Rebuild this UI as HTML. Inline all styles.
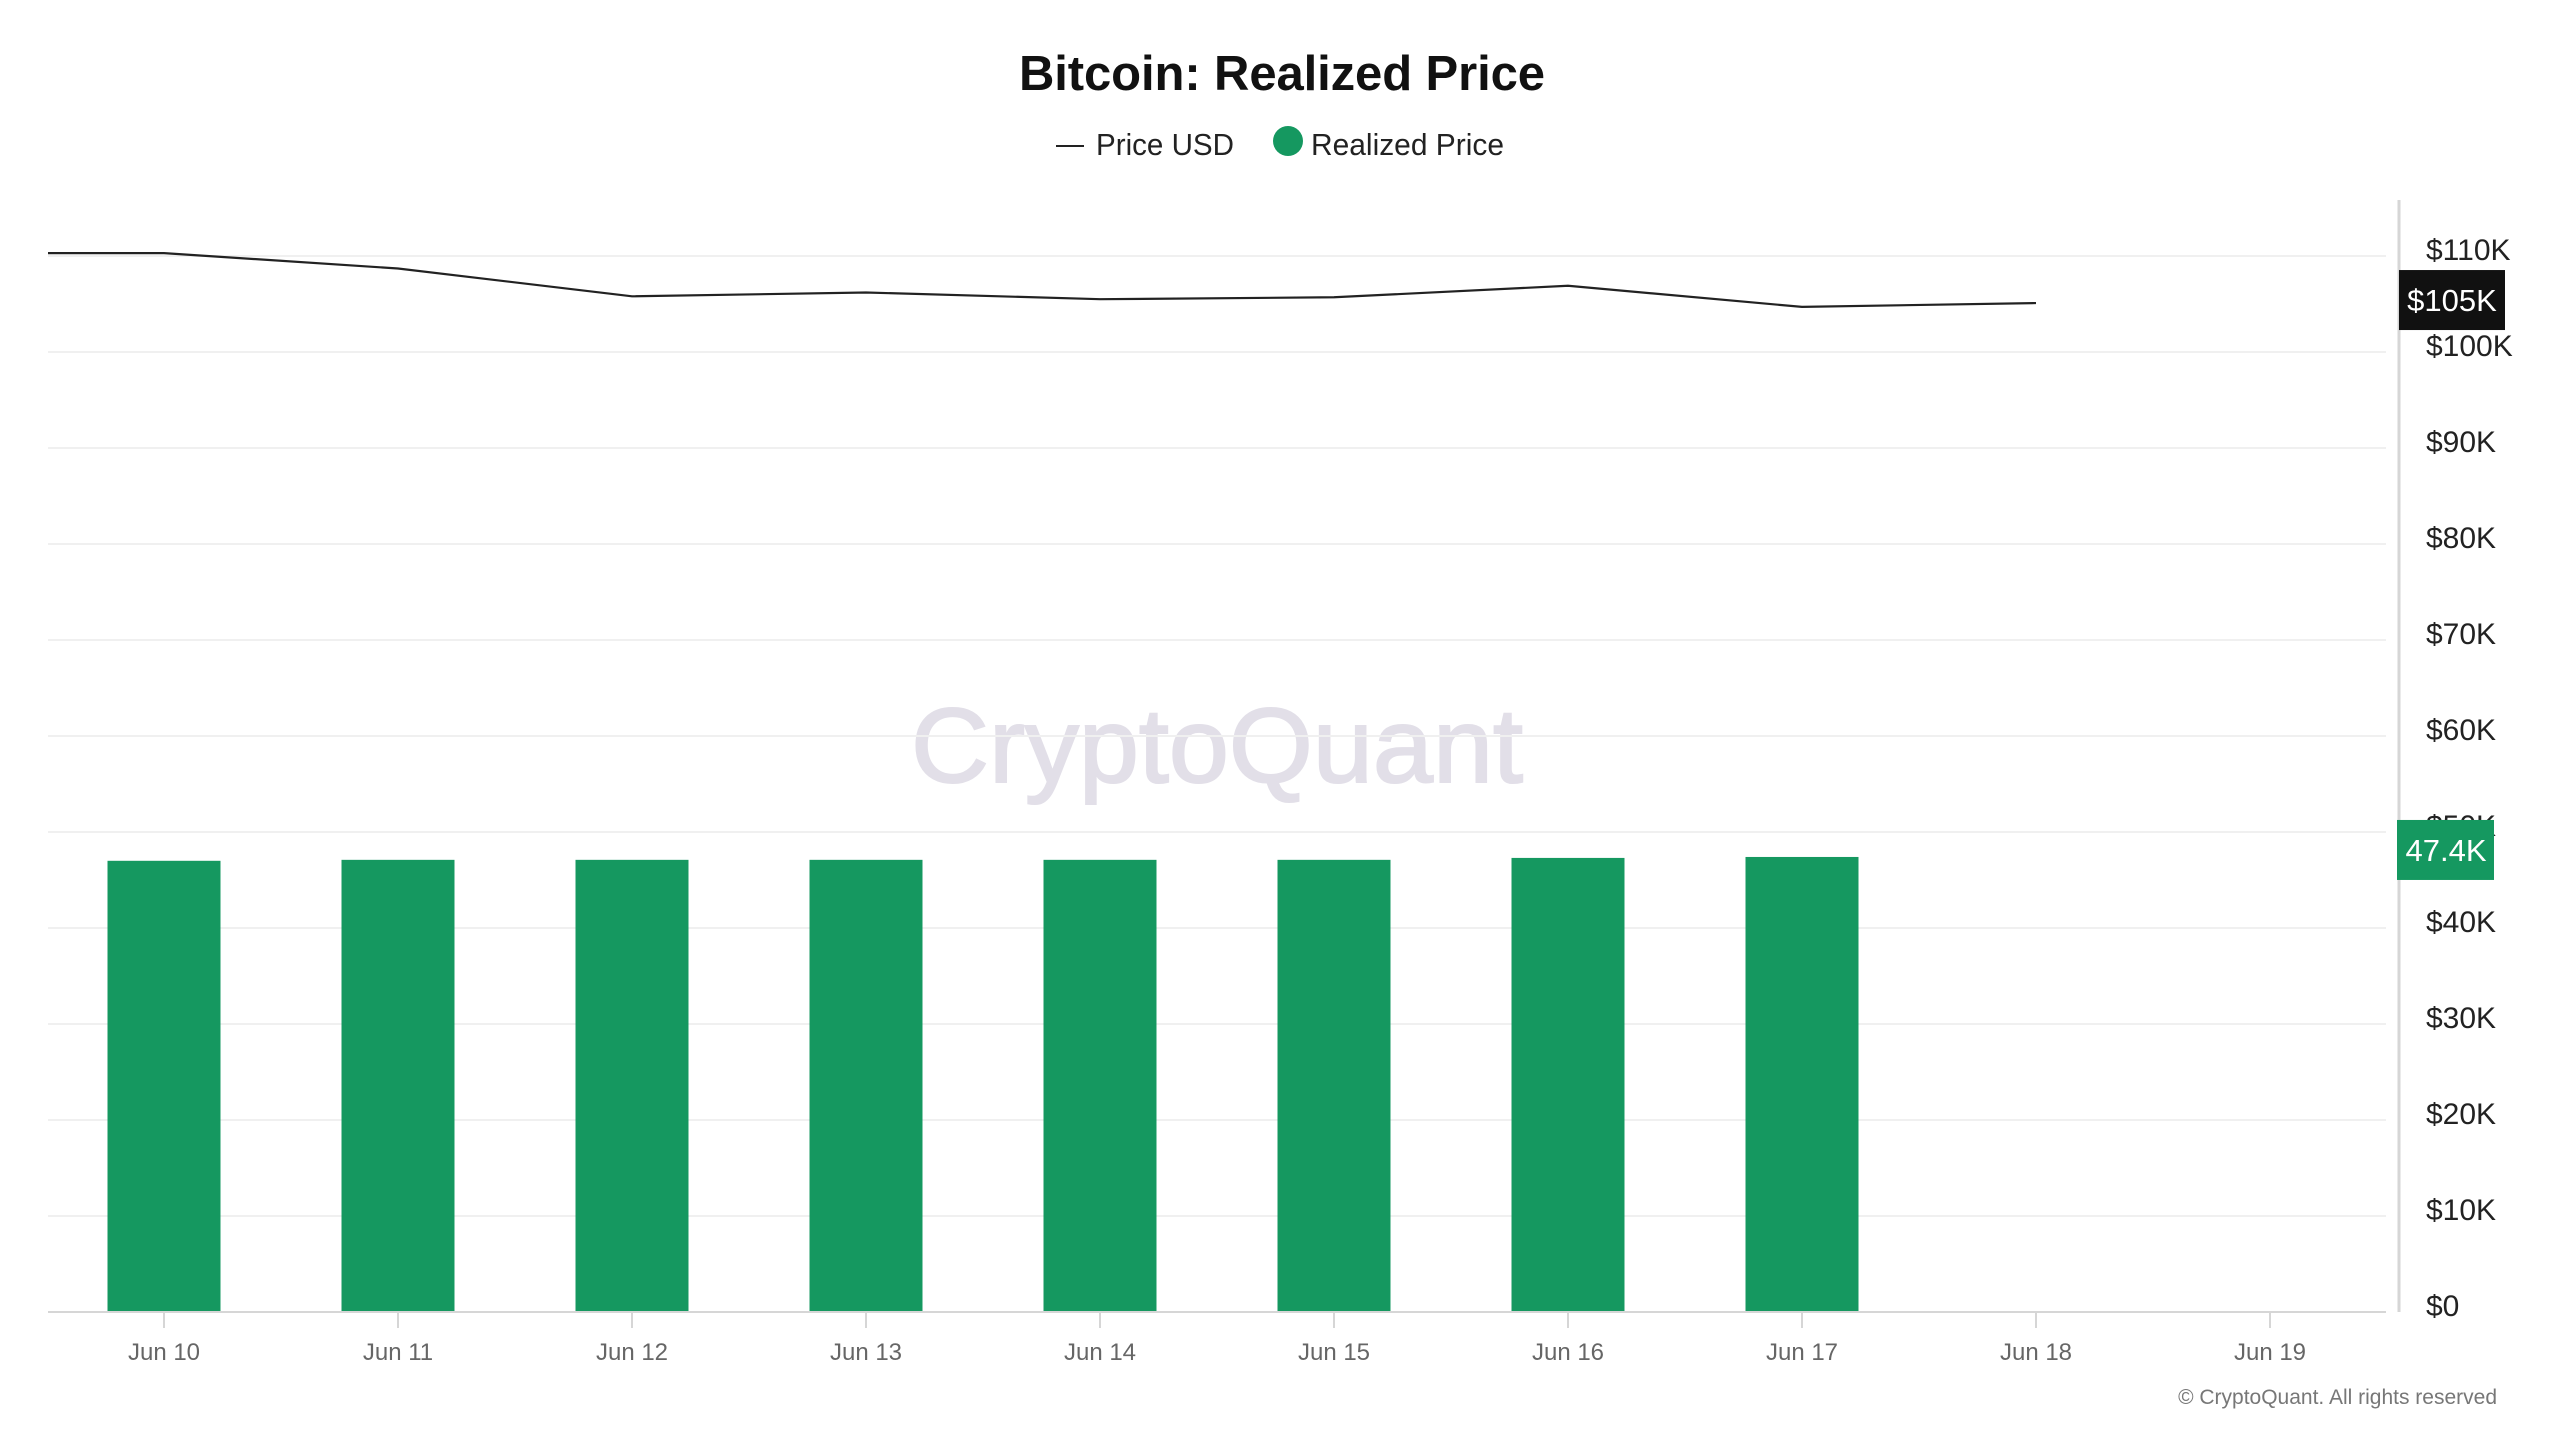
<!DOCTYPE html>
<html><head><meta charset="utf-8"><style>
html,body{margin:0;padding:0;background:#fff;}
svg{display:block;font-family:"Liberation Sans",sans-serif;}
</style></head><body>
<svg id="chart" width="2560" height="1440" viewBox="0 0 2560 1440">
<text x="1282" y="90" text-anchor="middle" font-size="49" font-weight="bold" fill="#111" textLength="526">Bitcoin: Realized Price</text>
<g>
<g>
<line x1="1056" y1="146" x2="1084" y2="146" stroke="#222" stroke-width="2"/>
<text x="1096" y="155" font-size="31" fill="#222" textLength="138" lengthAdjust="spacingAndGlyphs">Price USD</text>
</g>
<g>
<circle cx="1288" cy="141" r="15" fill="#159860"/>
<text x="1311" y="155" font-size="31" fill="#222" textLength="193" lengthAdjust="spacingAndGlyphs">Realized Price</text>
</g>
</g>
<text x="1217" y="782" text-anchor="middle" font-size="106" fill="#e2dfe8" stroke="#e2dfe8" stroke-width="2" textLength="612" lengthAdjust="spacingAndGlyphs">CryptoQuant</text>
<g id="grid"></g>
<g id="bars"></g>
<g id="line"></g>
<g id="axes"></g>
<text x="2497" y="1404" text-anchor="end" font-size="21" fill="#777">© CryptoQuant. All rights reserved</text>
</svg>
<script>
const categories = ["Jun 10","Jun 11","Jun 12","Jun 13","Jun 14","Jun 15","Jun 16","Jun 17","Jun 18","Jun 19"];
const realizedValues = [47.0, 47.1, 47.1, 47.1, 47.1, 47.1, 47.3, 47.4];
const priceDates = ["Jun 9","Jun 10","Jun 11","Jun 12","Jun 13","Jun 14","Jun 15","Jun 16","Jun 17","Jun 18"];
const priceValues = [110.3, 110.3, 108.7, 105.8, 106.2, 105.5, 105.7, 106.9, 104.7, 105.1];
const yTicks = [0,10,20,30,40,50,60,70,80,90,100,110];
const yTickLabels = ["$0","$10K","$20K","$30K","$40K","$50K","$60K","$70K","$80K","$90K","$100K","$110K"];
const lastPriceLabel = "$105K";
const lastRealizedLabel = "47.4K";

const NS="http://www.w3.org/2000/svg";
const plotL=48, plotR=2386, axisX=2399, y0=1312;
function y(v){return y0 - v*9.6;}
function xIdx(i){return 164 + i*234;}
function mk(tag,attrs,parent){const e=document.createElementNS(NS,tag);for(const k in attrs)e.setAttribute(k,attrs[k]);parent.appendChild(e);return e;}

const grid=document.getElementById('grid');
yTicks.forEach((t,i)=>{
  if(t>0){const g=mk('line',{x1:plotL,x2:plotR,y1:y(t),y2:y(t),stroke:'#f0f0f0','stroke-width':2},grid);
  
  }
});

const bars=document.getElementById('bars');
const bw=113;
realizedValues.forEach((v,i)=>{
  const r=mk('rect',{x:xIdx(i)-bw/2,y:y(v),width:bw,height:y0-y(v),fill:'#159860'},bars);
  
  
});

const lineG=document.getElementById('line');
const clip=mk('clipPath',{id:'pc'},lineG);
mk('rect',{x:plotL,y:0,width:plotR-plotL,height:1440},clip);
const pts=priceValues.map((v,i)=>(xIdx(i-1))+','+y(v)).join(' ');
const pl=mk('polyline',{points:pts,fill:'none',stroke:'#222','stroke-width':2.2,'clip-path':'url(#pc)'},lineG);



const axes=document.getElementById('axes');
const xa=mk('line',{x1:plotL,x2:plotR,y1:y0,y2:y0,stroke:'#d6d6d6','stroke-width':2},axes);


const ya=mk('line',{x1:axisX,x2:axisX,y1:200,y2:1312,stroke:'#d6d6d6','stroke-width':3},axes);


categories.forEach((c,i)=>{
  const tk=mk('line',{x1:xIdx(i),x2:xIdx(i),y1:y0,y2:y0+16,stroke:'#d6d6d6','stroke-width':2},axes);
  
  
  const t=mk('text',{x:xIdx(i),y:1360,'text-anchor':'middle','font-size':24,fill:'#666'},axes);
  t.textContent=c;
  
  
});
yTicks.forEach((v,i)=>{
  const t=mk('text',{x:2426,y:y(v)+4,'font-size':30,fill:'#222'},axes);
  t.textContent=yTickLabels[i];
  
  
});
const lp=priceValues[priceValues.length-1];
const b1=mk('rect',{x:2399,y:y(lp)-33,width:106,height:60,fill:'#111'},axes);


const t1=mk('text',{x:2452,y:y(lp)+8,'text-anchor':'middle','font-size':31,fill:'#fff'},axes);
t1.textContent=lastPriceLabel;


const lr=realizedValues[realizedValues.length-1];
const b2=mk('rect',{x:2397,y:y(lr)-37,width:97,height:60,fill:'#159860'},axes);


const t2=mk('text',{x:2446,y:y(lr)+4,'text-anchor':'middle','font-size':31,fill:'#fff'},axes);
t2.textContent=lastRealizedLabel;


</script>
</body></html>
